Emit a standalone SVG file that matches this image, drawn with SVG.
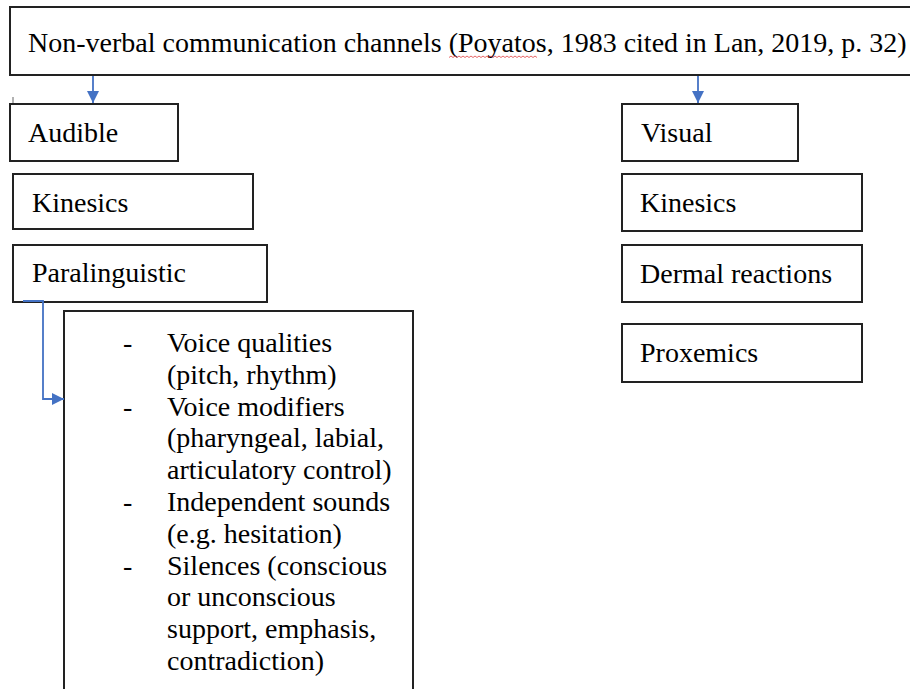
<svg xmlns="http://www.w3.org/2000/svg" width="910" height="689" viewBox="0 0 910 689">
  <style>
    .box { fill: #ffffff; stroke: #222222; stroke-width: 2; }
    .lbl { font-family: "Liberation Serif", "Times New Roman", serif; font-size: 28px; fill: #000000; }
    .link { fill: none; stroke: #4472C4; stroke-width: 1.8; }
  </style>
  <defs>
    <marker id="head" viewBox="0 0 10 10" refX="10" refY="5" markerWidth="12" markerHeight="13" markerUnits="userSpaceOnUse" orient="auto">
      <path d="M0,0 L10,5 L0,10 Z" fill="#4472C4"/>
    </marker>
  </defs>
  <rect width="910" height="689" fill="#ffffff"/>

  <!-- title box, runs past the right edge -->
  <g id="channels">
    <rect class="box" x="10" y="7" width="910" height="68"/>
    <text class="lbl" x="28" y="52">Non-verbal communication channels (Poyatos, 1983 cited in Lan, 2019, p. 32)</text>
    <path d="M449,57.5 l2,-1.5 l2,1.5 l2,-1.5 l2,1.5 l2,-1.5 l2,1.5 l2,-1.5 l2,1.5 l2,-1.5 l2,1.5 l2,-1.5 l2,1.5 l2,-1.5 l2,1.5 l2,-1.5 l2,1.5 l2,-1.5 l2,1.5 l2,-1.5 l2,1.5 l2,-1.5 l2,1.5 l2,-1.5 l2,1.5 l2,-1.5 l2,1.5 l2,-1.5 l2,1.5 l2,-1.5 l2,1.5 l2,-1.5 l2,1.5 l2,-1.5 l2,1.5 l2,-1.5 l2,1.5 l2,-1.5 l2,1.5 l2,-1.5 l2,1.5 l2,-1.5 l2,1.5 l2,-1.5 l2,1.5" fill="none" stroke="#e04040" stroke-width="0.8"/>
  </g>

  <!-- audible column -->
  <g id="audible">
    <line x1="13" y1="97" x2="13" y2="127" stroke="#999999" stroke-width="1.5"/>
    <rect class="box" x="10" y="104" width="168" height="57"/>
    <text class="lbl" x="28" y="142">Audible</text>
  </g>
  <g id="kinesics-audible">
    <rect class="box" x="13" y="174" width="240" height="55"/>
    <text class="lbl" x="32" y="212">Kinesics</text>
  </g>
  <g id="paralinguistic">
    <rect class="box" x="13" y="245" width="254" height="57"/>
    <text class="lbl" x="32" y="282">Paralinguistic</text>
  </g>
  <g id="paralinguistic-detail">
    <rect class="box" x="64" y="311" width="349" height="400"/>
    <g class="lbl">
      <text x="123" y="352">-</text>
      <text x="167" y="352">Voice qualities</text>
      <text x="167" y="383.8">(pitch, rhythm)</text>
      <text x="123" y="415.6">-</text>
      <text x="167" y="415.6">Voice modifiers</text>
      <text x="167" y="447.4">(pharyngeal, labial,</text>
      <text x="167" y="479.2">articulatory control)</text>
      <text x="123" y="511">-</text>
      <text x="167" y="511">Independent sounds</text>
      <text x="167" y="542.8">(e.g. hesitation)</text>
      <text x="123" y="574.6">-</text>
      <text x="167" y="574.6">Silences (conscious</text>
      <text x="167" y="606.4">or unconscious</text>
      <text x="167" y="638.2">support, emphasis,</text>
      <text x="167" y="670">contradiction)</text>
    </g>
  </g>

  <!-- visual column -->
  <g id="visual">
    <rect class="box" x="622" y="104" width="176" height="57"/>
    <text class="lbl" x="641" y="142">Visual</text>
  </g>
  <g id="kinesics-visual">
    <rect class="box" x="622" y="174" width="240" height="57"/>
    <text class="lbl" x="640" y="212">Kinesics</text>
  </g>
  <g id="dermal">
    <rect class="box" x="622" y="245" width="240" height="57"/>
    <text class="lbl" x="640" y="283">Dermal reactions</text>
  </g>
  <g id="proxemics">
    <rect class="box" x="622" y="324" width="240" height="58"/>
    <text class="lbl" x="640" y="362">Proxemics</text>
  </g>

  <!-- connectors -->
  <g id="connectors">
    <path class="link" d="M93,76 V103" marker-end="url(#head)"/>
    <path class="link" d="M698,76 V103" marker-end="url(#head)"/>
    <path class="link" d="M23,301 H43 V399 H64" marker-end="url(#head)"/>
  </g>
</svg>
